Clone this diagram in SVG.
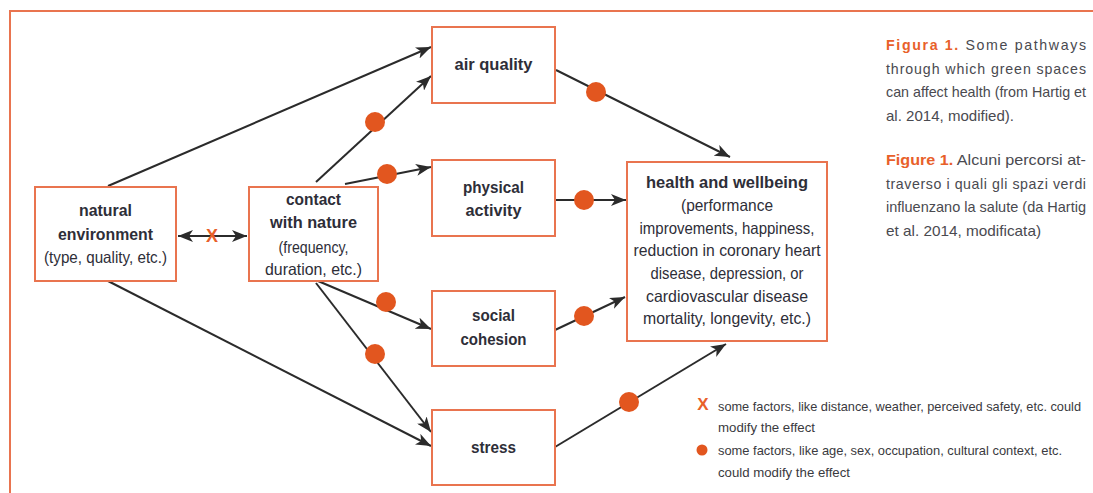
<svg xmlns="http://www.w3.org/2000/svg" width="1093" height="493" viewBox="0 0 1093 493">
<style>
.box{fill:#fff;stroke:#e9744f;stroke-width:2}
.t{font-family:"Liberation Sans",Arial,sans-serif;fill:#2e2e38;text-anchor:middle;font-size:16.5px}
.b{font-weight:bold}
.ln{stroke:#2b2b2b;stroke-width:2;fill:none}
.dot{fill:#e2561f}
.cap{font-family:"Liberation Sans",Arial,sans-serif;fill:#4a4a50;font-size:14.2px}
.or{fill:#e8602a;font-weight:bold}
.leg{font-family:"Liberation Sans",Arial,sans-serif;fill:#3a3a40;font-size:13px}
</style>
<defs>
<marker id="ah" markerUnits="userSpaceOnUse" markerWidth="16" markerHeight="12" refX="15" refY="6" orient="auto-start-reverse">
<path d="M0,0 L15,6 L0,12 L4,6 z" fill="#2b2b2b"/>
</marker>
</defs>
<rect width="1093" height="493" fill="#fff"/>
<g id="frame">
<path d="M10,493 V11 H1093" fill="none" stroke="#e9744f" stroke-width="2"/>
</g>
<g id="connectors">
<line class="ln" x1="108" y1="186" x2="431" y2="47" marker-end="url(#ah)"/>
<line class="ln" x1="108" y1="281" x2="431" y2="446" marker-end="url(#ah)"/>
<line class="ln" x1="178" y1="236" x2="247" y2="236" marker-start="url(#ah)" marker-end="url(#ah)"/>
<line class="ln" x1="316" y1="182" x2="431" y2="76" marker-end="url(#ah)"/>
<line class="ln" x1="345" y1="184" x2="431" y2="167" marker-end="url(#ah)"/>
<line class="ln" x1="318" y1="281" x2="431" y2="329" marker-end="url(#ah)"/>
<line class="ln" x1="316" y1="283" x2="431" y2="432" marker-end="url(#ah)"/>
<line class="ln" x1="556" y1="70" x2="730" y2="157" marker-end="url(#ah)"/>
<line class="ln" x1="555" y1="200" x2="626" y2="200" marker-end="url(#ah)"/>
<line class="ln" x1="555" y1="330" x2="625" y2="297" marker-end="url(#ah)"/>
<line class="ln" x1="555" y1="447" x2="726" y2="344" marker-end="url(#ah)"/>
<circle class="dot" cx="375" cy="122" r="10"/>
<circle class="dot" cx="387" cy="174" r="10"/>
<circle class="dot" cx="386" cy="302" r="10"/>
<circle class="dot" cx="375" cy="354" r="10"/>
<circle class="dot" cx="596" cy="92" r="10"/>
<circle class="dot" cx="584" cy="200" r="10"/>
<circle class="dot" cx="584" cy="316" r="10"/>
<circle class="dot" cx="629" cy="402" r="10"/>
<text x="212" y="242" class="t b" style="fill:#e8602a;font-size:18px">X</text>
</g>
<g id="natural">
<rect class="box" x="35" y="187" width="141" height="94"/>
<text class="t b" x="105.5" y="216" textLength="53" lengthAdjust="spacingAndGlyphs">natural</text>
<text class="t b" x="105.5" y="240" textLength="95" lengthAdjust="spacingAndGlyphs">environment</text>
<text class="t" x="105.5" y="263" textLength="123" lengthAdjust="spacingAndGlyphs">(type, quality, etc.)</text>
</g>
<g id="contact">
<rect class="box" x="249" y="187" width="129" height="94"/>
<text class="t b" x="313.5" y="205" textLength="55" lengthAdjust="spacingAndGlyphs">contact</text>
<text class="t b" x="313.5" y="228" textLength="87" lengthAdjust="spacingAndGlyphs">with nature</text>
<text class="t" x="313.5" y="253" textLength="70" lengthAdjust="spacingAndGlyphs">(frequency,</text>
<text class="t" x="313.5" y="275" textLength="97" lengthAdjust="spacingAndGlyphs">duration, etc.)</text>
</g>
<g id="air">
<rect class="box" x="432" y="27" width="123" height="76"/>
<text class="t b" x="493.5" y="70" textLength="78" lengthAdjust="spacingAndGlyphs">air quality</text>
</g>
<g id="physical">
<rect class="box" x="432" y="160" width="123" height="76"/>
<text class="t b" x="493.5" y="193" textLength="61" lengthAdjust="spacingAndGlyphs">physical</text>
<text class="t b" x="493.5" y="216" textLength="56" lengthAdjust="spacingAndGlyphs">activity</text>
</g>
<g id="social">
<rect class="box" x="432" y="291" width="123" height="75"/>
<text class="t b" x="493.5" y="321" textLength="43" lengthAdjust="spacingAndGlyphs">social</text>
<text class="t b" x="493.5" y="345" textLength="66" lengthAdjust="spacingAndGlyphs">cohesion</text>
</g>
<g id="stress">
<rect class="box" x="432" y="410" width="123" height="75"/>
<text class="t b" x="493.5" y="453" textLength="45" lengthAdjust="spacingAndGlyphs">stress</text>
</g>
<g id="health">
<rect class="box" x="627" y="162" width="200" height="179"/>
<text class="t b" x="727" y="188" textLength="162" lengthAdjust="spacingAndGlyphs">health and wellbeing</text>
<text class="t" x="727" y="211" textLength="92" lengthAdjust="spacingAndGlyphs">(performance</text>
<text class="t" x="727" y="234" textLength="175" lengthAdjust="spacingAndGlyphs">improvements, happiness,</text>
<text class="t" x="727" y="256" textLength="187" lengthAdjust="spacingAndGlyphs">reduction in coronary heart</text>
<text class="t" x="727" y="279" textLength="153" lengthAdjust="spacingAndGlyphs">disease, depression, or</text>
<text class="t" x="727" y="302" textLength="162" lengthAdjust="spacingAndGlyphs">cardiovascular disease</text>
<text class="t" x="727" y="324" textLength="168" lengthAdjust="spacingAndGlyphs">mortality, longevity, etc.)</text>
</g>
<g id="caption">
<text class="cap" x="886" y="50" textLength="200" lengthAdjust="spacing"><tspan class="or">Figura 1.</tspan> Some pathways</text>
<text class="cap" x="886" y="74" textLength="200" lengthAdjust="spacing">through which green spaces</text>
<text class="cap" x="886" y="97" textLength="200" lengthAdjust="spacingAndGlyphs">can affect health (from Hartig et</text>
<text class="cap" x="886" y="121" textLength="128" lengthAdjust="spacingAndGlyphs">al. 2014, modified).</text>
<text class="cap" x="886" y="165" textLength="200" lengthAdjust="spacingAndGlyphs"><tspan class="or">Figure 1.</tspan> Alcuni percorsi at-</text>
<text class="cap" x="886" y="189" textLength="200" lengthAdjust="spacing">traverso i quali gli spazi verdi</text>
<text class="cap" x="886" y="212" textLength="200" lengthAdjust="spacingAndGlyphs">influenzano la salute (da Hartig</text>
<text class="cap" x="886" y="236" textLength="155" lengthAdjust="spacingAndGlyphs">et al. 2014, modificata)</text>
</g>
<g id="legend">
<text x="703" y="410" class="t b" style="fill:#e8602a;font-size:17px">X</text>
<text class="leg" x="718" y="411" textLength="363" lengthAdjust="spacingAndGlyphs">some factors, like distance, weather, perceived safety, etc. could</text>
<text class="leg" x="718" y="432" textLength="97" lengthAdjust="spacingAndGlyphs">modify the effect</text>
<circle class="dot" cx="702" cy="450" r="5.5"/>
<text class="leg" x="718" y="455" textLength="344" lengthAdjust="spacingAndGlyphs">some factors, like age, sex, occupation, cultural context, etc.</text>
<text class="leg" x="718" y="477" textLength="132" lengthAdjust="spacingAndGlyphs">could modify the effect</text>
</g>
</svg>
